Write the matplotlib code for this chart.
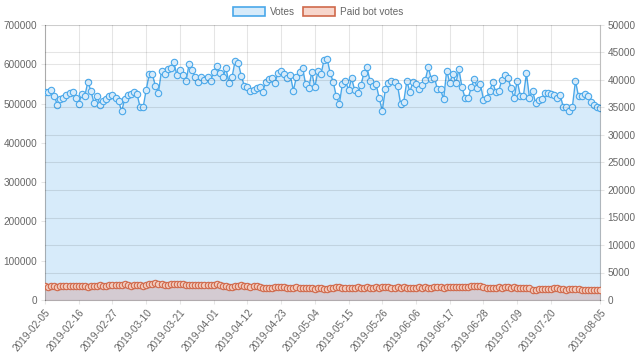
import numpy as np
import pandas as pd
import matplotlib
matplotlib.use("Agg")
import matplotlib.pyplot as plt
from matplotlib.patches import Patch

plt.rcParams["font.family"] = ["Liberation Sans", "DejaVu Sans"]

# daily data, 2019-02-05 .. 2019-08-05
dates = pd.date_range("2019-02-05", "2019-08-05", freq="D")

votes = [
    529000, 530000, 535000, 520000, 497000, 512000, 515000, 523000, 526000, 529000,
    513000, 499000, 525000, 520000, 556000, 531000, 501000, 519000, 496000, 507000,
    512000, 518000, 521000, 515000, 507000, 480000, 512000, 522000, 524000, 530000,
    525000, 491000, 490000, 535000, 575000, 575000, 545000, 528000, 584000, 575000,
    587000, 591000, 605000, 573000, 585000, 573000, 557000, 601000, 585000, 567000,
    556000, 568000, 559000, 567000, 558000, 581000, 595000, 577000, 567000, 590000,
    553000, 567000, 609000, 604000, 571000, 545000, 543000, 532000, 535000, 539000,
    541000, 530000, 556000, 563000, 564000, 553000, 579000, 582000, 575000, 566000,
    572000, 533000, 568000, 581000, 590000, 550000, 539000, 580000, 541000, 583000,
    574000, 611000, 614000, 578000, 555000, 518000, 499000, 551000, 557000, 535000,
    564000, 534000, 526000, 546000, 577000, 592000, 558000, 545000, 549000, 513000,
    482000, 536000, 552000, 557000, 555000, 545000, 498000, 505000, 557000, 530000,
    555000, 549000, 536000, 547000, 560000, 592000, 562000, 566000, 536000, 536000,
    511000, 584000, 553000, 575000, 553000, 587000, 541000, 514000, 513000, 541000,
    563000, 539000, 550000, 510000, 515000, 531000, 555000, 529000, 533000, 560000,
    573000, 565000, 539000, 514000, 558000, 520000, 518000, 577000, 515000, 533000,
    501000, 508000, 511000, 526000, 526000, 525000, 522000, 514000, 522000, 492000,
    490000, 482000, 492000, 558000, 518000, 518000, 524000, 518000, 503000, 497000,
    492000, 488000,
]

paid_bot_votes = [
    2550, 2400, 2500, 2600, 2450, 2550, 2500, 2600, 2550, 2500, 2500,
    2550, 2500, 2500, 2450, 2550, 2600, 2600, 2650, 2600, 2550, 2650,
    2700, 2750, 2650, 2700, 2850, 2700, 2600, 2750, 2800, 2650, 2550,
    2700, 2850, 2950, 3050, 2900, 2850, 2800, 2750, 2950, 2900, 3000,
    2950, 2850, 2750, 2800, 2750, 2800, 2700, 2650, 2700, 2650, 2650,
    2750, 2850, 2700, 2600, 2550, 2450, 2400, 2600, 2550, 2650, 2600,
    2500, 2450, 2550, 2600, 2350, 2200, 2150, 2200, 2250, 2400, 2450,
    2350, 2300, 2250, 2200, 2150, 2300, 2250, 2200, 2150, 2100, 2100,
    2050, 2100, 2150, 2050, 2000, 2200, 2250, 2350, 2300, 2250, 2200,
    2250, 2200, 2250, 2300, 2250, 2200, 2300, 2250, 2200, 2300, 2250,
    2350, 2400, 2300, 2250, 2150, 2300, 2250, 2300, 2250, 2200, 2150,
    2250, 2300, 2250, 2300, 2250, 2200, 2300, 2350, 2300, 2250, 2300,
    2350, 2400, 2350, 2300, 2350, 2400, 2450, 2500, 2550, 2600, 2500,
    2400, 2250, 2200, 2150, 2200, 2300, 2250, 2350, 2300, 2250, 2300,
    2200, 2250, 2150, 2200, 2100, 1850, 1900, 1950, 2000, 2050, 2000,
    2050, 2150, 2100, 2050, 1950, 1900, 1950, 2000, 1950, 2000, 1900,
    1850, 1850, 1800, 1850, 1800, 1900,
]

left_ticks = np.arange(0, 700001, 100000)
right_ticks = np.arange(0, 50001, 5000)

BLUE = "#4aa8ea"
BLUE_FILL = "#d7ebfa"
RED = "#d0694b"
RED_FILL = (0.80, 0.30, 0.20, 0.2)
GRID = (0, 0, 0, 0.1)
TXT = "#666666"
FS = 7.2

fig = plt.figure(figsize=(6.4, 3.61), dpi=100)
ax = fig.add_axes([45 / 640, 1 - 300 / 361, 555 / 640, 275 / 361])
ax2 = ax.twinx()

ax.fill_between(dates, votes, 0, color=BLUE_FILL, lw=0, zorder=1)
ax.plot(dates, votes, color=BLUE, lw=1, marker="o", ms=4.6, mfc=BLUE_FILL,
        mec=BLUE, mew=0.8, zorder=3)

ax2.fill_between(dates, paid_bot_votes, 0, color=RED_FILL, lw=0, zorder=1)
ax2.plot(dates, paid_bot_votes, color=RED, lw=1, marker="o", ms=4.6,
         mfc=(0.95, 0.8, 0.75), mec=RED, mew=0.8, zorder=3)

ax.set_xlim(dates[0], dates[-1])
ax.set_ylim(0, 700000)
ax2.set_ylim(0, 50000)
ax.set_yticks(left_ticks)
ax2.set_yticks(right_ticks)

tick_dates = list(dates[::11][:-1]) + [dates[-1]]
ax.set_xticks(tick_dates)
ax.set_xticklabels([d.strftime("%Y-%m-%d") for d in tick_dates], rotation=50,
                   ha="right", rotation_mode="anchor")

# grid lines from both y axes plus vertical ones
for v in left_ticks:
    ax.axhline(v, color=GRID, lw=0.8, zorder=0.5)
for v in right_ticks:
    ax2.axhline(v, color=GRID, lw=0.8, zorder=0.5)
for d in tick_dates:
    ax.axvline(d, color=GRID, lw=0.8, zorder=0.5)

for a in (ax, ax2):
    for s in a.spines.values():
        s.set_visible(False)
    a.tick_params(colors=TXT, labelsize=FS, length=3, width=0.8, pad=2.5)
    a.tick_params(axis="both", color=GRID)
ax.spines["left"].set_visible(True)
ax.spines["left"].set_color((0, 0, 0, 0.25))
ax.spines["bottom"].set_visible(True)
ax.spines["bottom"].set_color((0, 0, 0, 0.25))
ax2.spines["right"].set_visible(True)
ax2.spines["right"].set_color((0, 0, 0, 0.25))
ax.tick_params(axis="x", pad=2)

handles = [
    Patch(facecolor=BLUE_FILL, edgecolor=BLUE, lw=1.2, label="Votes"),
    Patch(facecolor=(0.97, 0.84, 0.80), edgecolor=RED, lw=1.2, label="Paid bot votes"),
]
leg = fig.legend(handles=handles, loc="center", bbox_to_anchor=(318 / 640, 1 - 12 / 361),
                 ncol=2, frameon=False, fontsize=FS, handlelength=3.2, handleheight=1.0,
                 columnspacing=0.8, handletextpad=0.5)
for t in leg.get_texts():
    t.set_color(TXT)

fig.savefig("out.png", dpi=100)
